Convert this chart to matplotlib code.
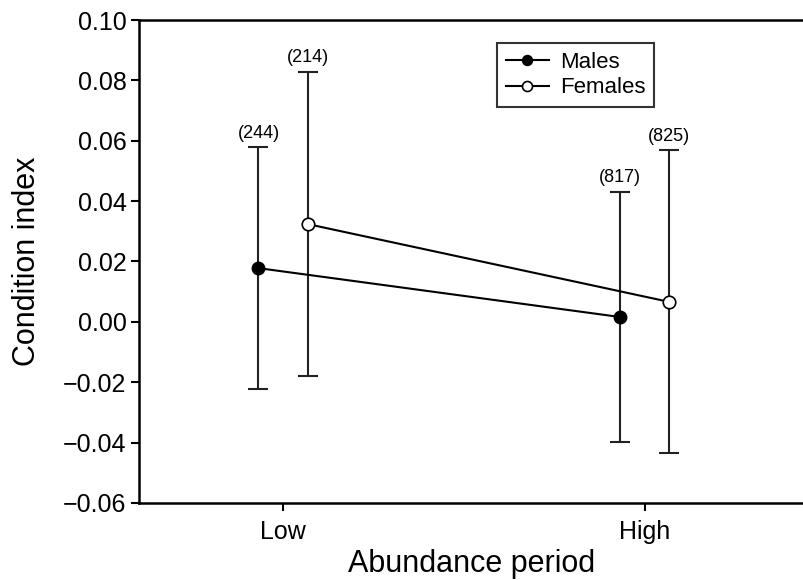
import matplotlib
matplotlib.use("Agg")
import matplotlib.pyplot as plt

plt.rcParams['font.family'] = ['Liberation Sans', 'DejaVu Sans']

periods = ["Low", "High"]
males_mean = [0.0178, 0.0016]
males_err = [0.040, 0.0415]
females_mean = [0.0324, 0.0066]
females_err = [0.0504, 0.0502]
males_n = ["(244)", "(817)"]
females_n = ["(214)", "(825)"]

fig = plt.figure(figsize=(8.04, 5.80), dpi=100)
ax = fig.add_axes([0.173, 0.1328, 0.827, 0.8327])

xpos = [0, 1]
off = 0.068
xm = [x - off for x in xpos]
xf = [x + off for x in xpos]

ax.errorbar(xm, males_mean, yerr=males_err, fmt='none', ecolor='#222222',
            elinewidth=1.5, capsize=7, capthick=1.5, zorder=2)
ax.errorbar(xf, females_mean, yerr=females_err, fmt='none', ecolor='#222222',
            elinewidth=1.5, capsize=7, capthick=1.5, zorder=2)
ax.plot(xm, males_mean, '-o', color='black', markerfacecolor='black',
        markersize=9, lw=1.5, label='Males', zorder=3)
ax.plot(xf, females_mean, '-o', color='black', markerfacecolor='white',
        markersize=9, lw=1.5, markeredgewidth=1.2, label='Females', zorder=3)

for x, m, e, t in zip(xm, males_mean, males_err, males_n):
    ax.annotate(t, (x, m + e), xytext=(0, 4), textcoords='offset points',
                ha='center', va='bottom', fontsize=13)
for x, m, e, t in zip(xf, females_mean, females_err, females_n):
    ax.annotate(t, (x, m + e), xytext=(0, 4), textcoords='offset points',
                ha='center', va='bottom', fontsize=13)

ax.set_xlim(-0.398, 1.44)
ax.set_ylim(-0.06, 0.10)
ax.set_xticks(xpos)
ax.set_xticklabels(periods)
ax.set_yticks([-0.06, -0.04, -0.02, 0.0, 0.02, 0.04, 0.06, 0.08, 0.10])
ax.set_yticklabels(["\u22120.06", "\u22120.04", "\u22120.02", "0.00", "0.02",
                    "0.04", "0.06", "0.08", "0.10"])
ax.tick_params(axis='both', labelsize=18, length=6, width=1.5, direction='out')
ax.tick_params(axis='y', pad=3)
ax.tick_params(axis='x', pad=6)
for s in ['left', 'bottom', 'top']:
    ax.spines[s].set_linewidth(1.8)
ax.spines['right'].set_visible(False)

ax.set_xlabel("Abundance period", fontsize=22, labelpad=4)
ax.set_ylabel("Condition index", fontsize=22, labelpad=15)

leg = ax.legend(loc='upper left', bbox_to_anchor=(0.539, 0.953), fontsize=16,
                frameon=True, fancybox=False, edgecolor='black',
                handlelength=1.9, borderpad=0.4, labelspacing=0.22,
                handletextpad=0.5, borderaxespad=0, markerscale=0.8)
leg.get_frame().set_linewidth(1.5)

fig.savefig("out.png", dpi=100)
